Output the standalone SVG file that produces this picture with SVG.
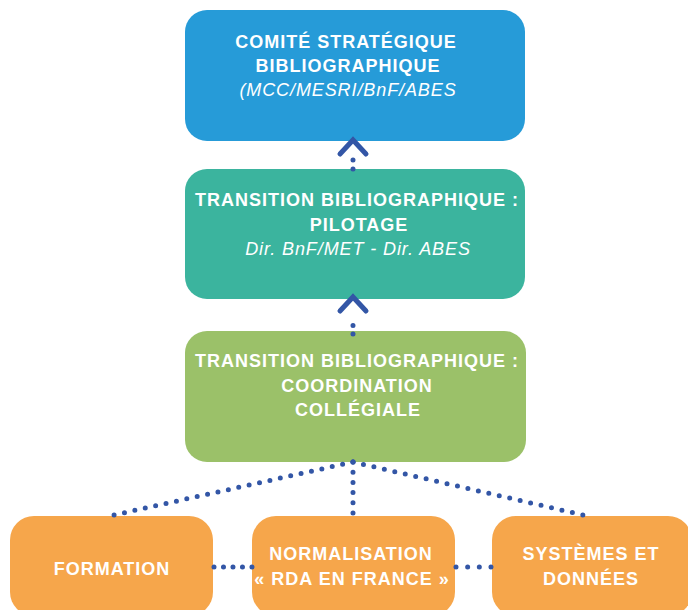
<svg xmlns="http://www.w3.org/2000/svg" width="688" height="610" viewBox="0 0 688 610">
<style>
.box{stroke:none}
.t{font-family:"Liberation Sans",Arial,sans-serif;font-weight:700;font-size:18px;fill:#fff;text-anchor:middle;letter-spacing:1px}
.i{font-family:"Liberation Sans",Arial,sans-serif;font-weight:400;font-style:italic;font-size:18px;fill:#fff;text-anchor:middle;letter-spacing:0.9px}
.dot{fill:none;stroke:#3356a6;stroke-width:5;stroke-linecap:round;stroke-dasharray:0 10}
.chev{fill:none;stroke:#3356a6;stroke-width:5;stroke-linecap:round;stroke-linejoin:miter}
</style>
<rect width="688" height="610" fill="#fff"/>
<g id="node-comite">
<rect class="box" x="185" y="10" width="340" height="131" rx="22" fill="#269bd8"/>
<text class="t" x="346" y="48">COMITÉ STRATÉGIQUE</text>
<text class="t" x="348" y="72">BIBLIOGRAPHIQUE</text>
<text class="i" x="348" y="96">(MCC/MESRI/BnF/ABES</text>
</g>
<g id="node-pilotage">
<rect class="box" x="185" y="169" width="340" height="130" rx="22" fill="#3bb49e"/>
<text class="t" x="357" y="206">TRANSITION BIBLIOGRAPHIQUE :</text>
<text class="t" x="359" y="231">PILOTAGE</text>
<text class="i" x="358" y="255">Dir. BnF/MET - Dir. ABES</text>
</g>
<g id="node-coordination">
<rect class="box" x="185" y="331" width="341" height="131" rx="22" fill="#9bc169"/>
<text class="t" x="357" y="367">TRANSITION BIBLIOGRAPHIQUE :</text>
<text class="t" x="357" y="392">COORDINATION</text>
<text class="t" x="358" y="416">COLLÉGIALE</text>
</g>
<g id="node-formation">
<rect class="box" x="10" y="516" width="203" height="100" rx="24" fill="#f6a64b"/>
<text class="t" x="112" y="575">FORMATION</text>
</g>
<g id="node-normalisation">
<rect class="box" x="252" y="516" width="203" height="100" rx="24" fill="#f6a64b"/>
<text class="t" x="351" y="560">NORMALISATION</text>
<text class="t" x="352" y="585">« RDA EN FRANCE »</text>
</g>
<g id="node-systemes">
<rect class="box" x="492" y="516" width="200" height="100" rx="24" fill="#f6a64b"/>
<text class="t" x="591" y="560">SYSTÈMES ET</text>
<text class="t" x="591" y="585">DONNÉES</text>
</g>
<g id="connectors">
<path class="dot" d="M353,169 L353,151" style="stroke-dasharray:0 9"/>
<polyline class="chev" points="340,154 353,140 366,154"/>
<path class="dot" d="M353,334 L353,317" style="stroke-dasharray:0 8.5"/>
<polyline class="chev" points="340,311 353,297 366,311"/>
<path class="dot" d="M353,462 L353,513" style="stroke-dasharray:0 10.19"/>
<path class="dot" d="M353,462 L114,515" style="stroke-dasharray:0 10.64"/>
<path class="dot" d="M353,462 L583,515" style="stroke-dasharray:0 10.72"/>
<path class="dot" d="M214,567 L252,567" style="stroke-dasharray:0 9.49"/>
<path class="dot" d="M456,567 L491,567" style="stroke-dasharray:0 11.66"/>
</g>
</svg>
